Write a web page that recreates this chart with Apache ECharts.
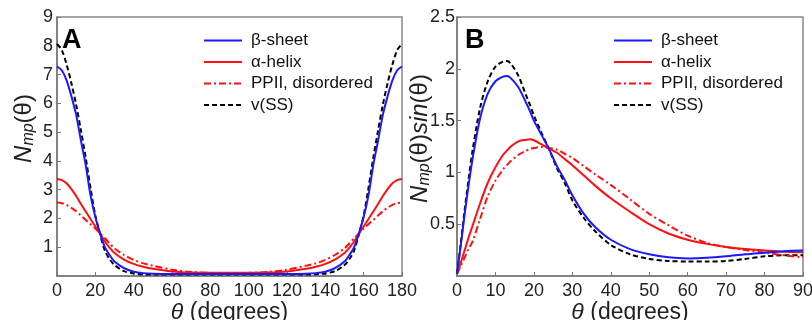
<!DOCTYPE html>
<html><head><meta charset="utf-8">
<script src="https://cdn.jsdelivr.net/npm/echarts@6/dist/echarts.min.js"></script>
<style>html,body{margin:0;padding:0;background:#fff}#c{width:812px;height:320px}</style>
</head><body><div id="c"></div>
<script>
// ---- Panel A data: N_mp(theta), theta 0..180 ----
const thetaA = [0,2.5,5,7.5,10,12.5,15,17.5,20,22.5,25,27.5,30,35,40,45,50,60,70,80,90,100,110,120,130,135,140,145,150,152.5,155,157.5,160,162.5,165,167.5,170,172.5,175,177.5,180];
const betaA  = [7.28,7.15,6.8,6.25,5.6,4.7,3.85,2.8,2.05,1.48,1.0,0.72,0.5,0.27,0.15,0.1,0.08,0.07,0.07,0.07,0.07,0.07,0.07,0.07,0.08,0.1,0.15,0.27,0.5,0.72,1.0,1.48,2.05,2.8,3.85,4.7,5.6,6.25,6.8,7.15,7.28];
const alphaA = [3.37,3.33,3.22,3.02,2.78,2.5,2.24,1.98,1.72,1.47,1.2,0.98,0.8,0.57,0.42,0.32,0.25,0.16,0.12,0.11,0.11,0.11,0.12,0.16,0.25,0.32,0.42,0.57,0.8,0.98,1.2,1.47,1.72,1.98,2.24,2.5,2.78,3.02,3.22,3.33,3.37];
const ppiiA  = [2.55,2.53,2.47,2.37,2.25,2.1,1.95,1.8,1.65,1.48,1.31,1.13,0.96,0.73,0.56,0.44,0.36,0.22,0.14,0.11,0.1,0.11,0.14,0.22,0.36,0.44,0.56,0.73,0.96,1.13,1.31,1.48,1.65,1.8,1.95,2.1,2.25,2.37,2.47,2.53,2.55];
const vssA   = [8.06,7.85,7.35,6.7,5.95,5.05,4.1,3.05,2.1,1.45,0.88,0.58,0.38,0.17,0.09,0.06,0.05,0.05,0.05,0.05,0.05,0.05,0.05,0.05,0.05,0.06,0.09,0.17,0.38,0.58,0.88,1.45,2.1,3.05,4.1,5.05,5.95,6.7,7.35,7.85,8.06];

// ---- Panel B data: N_mp(theta) sin(theta), theta 0..90 ----
const thetaB = [0,1,2,3,4,6,8,10,12,13,14,16,18,19,20,22,24,26,28,30,33,36,40,45,50,55,60,65,70,75,80,85,90];
const betaB  = [0.02,0.3,0.6,0.87,1.12,1.52,1.76,1.88,1.925,1.93,1.91,1.82,1.67,1.59,1.5,1.36,1.22,1.06,0.93,0.78,0.6,0.47,0.35,0.26,0.21,0.18,0.17,0.175,0.19,0.21,0.225,0.24,0.245];
const alphaB = [0.02,0.13,0.25,0.37,0.48,0.7,0.9,1.05,1.17,1.21,1.25,1.3,1.315,1.32,1.31,1.27,1.23,1.19,1.13,1.07,0.97,0.87,0.75,0.62,0.5,0.41,0.35,0.31,0.28,0.26,0.245,0.235,0.23];
const ppiiB  = [0.02,0.1,0.18,0.26,0.33,0.55,0.77,0.92,1.03,1.07,1.11,1.17,1.21,1.225,1.235,1.245,1.235,1.22,1.18,1.14,1.06,0.98,0.88,0.74,0.6,0.49,0.39,0.32,0.28,0.25,0.225,0.2,0.18];
const vssB   = [0.02,0.32,0.64,0.93,1.2,1.62,1.88,2.02,2.07,2.075,2.05,1.93,1.74,1.65,1.55,1.38,1.22,1.04,0.9,0.73,0.56,0.43,0.3,0.21,0.165,0.145,0.14,0.14,0.145,0.165,0.19,0.2,0.2];

const names = ['β-sheet','α-helix','PPII, disordered','v(SS)'];
const ticksA = {min:0,max:180,interval:20};
const ticksB = {min:0,max:90,interval:10};

const FONT = 'Liberation Sans, Arial, sans-serif';
const pair = (xs, ys) => xs.map((x,i)=>[x,ys[i]]);
const styles = [
  {color:'#1a1aff', width:2, type:'solid'},
  {color:'#ff1010', width:2, type:'solid'},
  {color:'#ff1010', width:2, type:[7,3,2,3]},
  {color:'#000000', width:2, type:[5,3]}
];
function mkSeries(xi, xs, arrs){
  return arrs.map((a,k)=>({
    type:'line', name:names[k], xAxisIndex:xi, yAxisIndex:xi, data:pair(xs,a),
    smooth:0.3, symbol:'none', showSymbol:false, lineStyle:styles[k], itemStyle:{color:styles[k].color}, z: 10-k
  }));
}
const axisCommon = {
  axisLine:{show:true, lineStyle:{color:'#777', width:1.5}},
  axisTick:{show:true, inside:true, length:4, lineStyle:{color:'#777'}},
  splitLine:{show:false},
  axisLabel:{color:'#222', fontSize:18, fontFamily:FONT}
};
const xName = {
  name:'{i|θ} (degrees)', nameLocation:'middle', nameGap:25, nameMoveOverlap:false,
  nameTextStyle:{fontSize:23, color:'#222', fontFamily:FONT, rich:{i:{fontStyle:'italic', fontSize:23, fontFamily:FONT, color:'#222'}}}
};
const richY = {
  n:{fontStyle:'italic', fontSize:24, fontFamily:FONT, color:'#222'},
  s:{fontStyle:'italic', fontSize:16, fontFamily:FONT, color:'#222', verticalAlign:'bottom', padding:[10,0,0,0]},
  p:{fontSize:24, fontFamily:FONT, color:'#222'}
};
const legendCommon = {orient:'vertical', itemWidth:38, itemHeight:12, itemGap:4.5, padding:0,
  itemStyle:{opacity:0, borderWidth:0},
  textStyle:{fontSize:17, color:'#111', fontFamily:FONT, padding:[0,0,0,4]}, selectedMode:false};
const chart = echarts.init(document.getElementById('c'), null, {renderer:'canvas'});
chart.setOption({
  backgroundColor:'#fff',
  animation:false,
  grid:[
    {left:57, top:17, width:345, height:259, show:true, borderColor:'#888', borderWidth:1.5, containLabel:false, outerBoundsMode:'none'},
    {left:457, top:17, width:346, height:259, show:true, borderColor:'#888', borderWidth:1.5, containLabel:false, outerBoundsMode:'none'}
  ],
  xAxis:[
    Object.assign({type:'value', gridIndex:0}, ticksA, axisCommon, xName, {axisLabel:Object.assign({}, axisCommon.axisLabel,{margin:6})}),
    Object.assign({type:'value', gridIndex:1}, ticksB, axisCommon, xName, {axisLabel:Object.assign({}, axisCommon.axisLabel,{margin:6})})
  ],
  yAxis:[
    Object.assign({type:'value', gridIndex:0, min:0, max:9, interval:1}, axisCommon, {
      axisLabel:Object.assign({}, axisCommon.axisLabel, {showMinLabel:false, margin:4}),
      name:'{n|N}{s|mp}{p|(θ)}', nameLocation:'middle', nameGap:20, nameRotate:90,
      nameTextStyle:{rich:richY, padding:[0,0,0,36]}
    }),
    Object.assign({type:'value', gridIndex:1, min:0, max:2.5, interval:0.5}, axisCommon, {
      axisLabel:Object.assign({}, axisCommon.axisLabel, {showMinLabel:false, margin:2}),
      name:'{n|N}{s|mp}{p|(θ)}{n|sin}{p|(θ)}', nameLocation:'middle', nameGap:24, nameRotate:90, nameMoveOverlap:false,
      nameTextStyle:{rich:richY, padding:[0,0,0,16]}
    })
  ],
  legend:[
    Object.assign({data:names.slice(), left:203, top:32}, legendCommon),
    Object.assign({data:names.slice(), left:613, top:32}, legendCommon)
  ],
  graphic:[
    {type:'text', left:62, top:27, style:{text:'A', font:'bold 27px '+FONT, fill:'#000'}},
    {type:'text', left:465, top:27, style:{text:'B', font:'bold 27px '+FONT, fill:'#000'}}
  ],
  series:[].concat(mkSeries(0, thetaA, [betaA,alphaA,ppiiA,vssA]), mkSeries(1, thetaB, [betaB,alphaB,ppiiB,vssB]))
});
</script></body></html>
